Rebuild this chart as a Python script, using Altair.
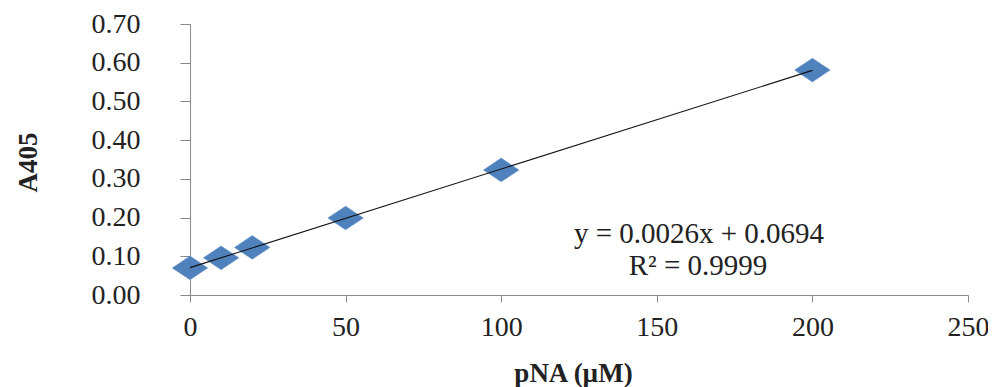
import altair as alt
import pandas as pd

# Data
pna_um = [0, 10, 20, 50, 100, 200]
a405 = [0.070, 0.096, 0.123, 0.199, 0.323, 0.581]
eq_lines = ["y = 0.0026x + 0.0694", "R\u00b2 = 0.9999"]
x_ticks = [0, 50, 100, 150, 200, 250]
y_ticks = [0.0, 0.1, 0.2, 0.3, 0.4, 0.5, 0.6, 0.7]

df = pd.DataFrame({"x": pna_um, "y": a405})

FONT = "Liberation Serif"
AXIS_GREY = "#8a8a8a"
BLUE = "#4F81BD"

xscale = alt.Scale(domain=[0, 250], nice=False, zero=False)
yscale = alt.Scale(domain=[0, 0.7], nice=False)

xaxis = alt.Axis(
    values=x_ticks, format="d", grid=False, domainColor=AXIS_GREY, tickColor=AXIS_GREY,
    tickSize=7, labelFont=FONT, labelFontSize=28, labelColor="#222222", labelPadding=11,
    labelFlush=False, labelOverlap=False,
    title="pNA (\u00b5M)", titleFont=FONT, titleFontSize=27, titleFontWeight="bold",
    titleColor="#222222", titleBaseline="alphabetic", titleY=86, titleX=383,
    titleAnchor="middle",
)
yaxis = alt.Axis(
    values=y_ticks, format=".2f", grid=False, domainColor=AXIS_GREY, tickColor=AXIS_GREY,
    tickSize=10, labelFont=FONT, labelFontSize=28, labelColor="#222222", labelPadding=40,
    labelFlush=False, labelOverlap=False, labelSeparation=0, labelBound=False,
    tickCount=8,
    title="A405", titleFont=FONT, titleFontSize=27, titleFontWeight="bold",
    titleColor="#222222", titleAngle=-90, titleX=-162, titleY=138, titleAlign="center",
    titleBaseline="middle",
)

base = alt.Chart(df)

points = base.mark_point(
    shape="M-1.5,0L0,-1L1.5,0L0,1Z", filled=True, opacity=1, color=BLUE, size=560,
    stroke="#5b8cc6", strokeWidth=0.5,
).encode(
    x=alt.X("x:Q", scale=xscale, axis=xaxis),
    y=alt.Y("y:Q", scale=yscale, axis=yaxis),
)

trend = base.transform_regression("x", "y").mark_line(color="#111111", strokeWidth=1.1).encode(
    x=alt.X("x:Q", scale=xscale, axis=xaxis),
    y=alt.Y("y:Q", scale=yscale, axis=yaxis),
)

eq1 = alt.Chart(pd.DataFrame({"t": [eq_lines[0]]})).mark_text(
    font=FONT, fontSize=29, color="#222222", align="center", baseline="middle"
).encode(text="t:N", x=alt.value(509), y=alt.value(210))

eq2 = alt.Chart(pd.DataFrame({"t": [eq_lines[1]]})).mark_text(
    font=FONT, fontSize=29, color="#222222", align="center", baseline="middle"
).encode(text="t:N", x=alt.value(508), y=alt.value(242))

chart = alt.layer(points, trend, eq1, eq2).properties(
    width=778, height=271,
    autosize=alt.AutoSizeParams(type="none"),
    padding={"left": 182, "top": 16, "right": 20, "bottom": 100},
).configure(background="white").configure_view(stroke=None, strokeWidth=0)

chart.save("out.html", embed_options={"renderer": "svg", "actions": False})
